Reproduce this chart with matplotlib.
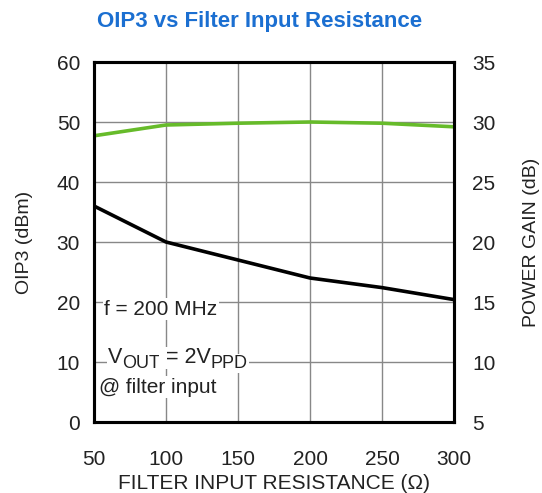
import matplotlib
matplotlib.use("Agg")
import matplotlib.pyplot as plt
from matplotlib.transforms import IdentityTransform

resistance = [50, 100, 150, 200, 250, 300]
oip3 = [47.7, 49.5, 49.8, 50.0, 49.8, 49.2]
gain = [23.0, 20.0, 18.5, 17.0, 16.2, 15.2]
x_ticks = [50, 100, 150, 200, 250, 300]
left_ticks = [0, 10, 20, 30, 40, 50, 60]
right_ticks = [5, 10, 15, 20, 25, 30, 35]

plt.rcParams['font.family'] = ['Liberation Sans', 'DejaVu Sans']
TXT = '#222222'

fig = plt.figure(figsize=(5.42, 4.93), dpi=100)
ax = fig.add_axes([94/542, 71/493, 360/542, 360/493])
ax2 = ax.twinx()

ax.set_xlim(50, 300)
ax.set_ylim(0, 60)
ax2.set_ylim(5, 35)
ax.set_xticks(x_ticks)
ax.set_yticks(left_ticks)
ax2.set_yticks(right_ticks)
ax.grid(True, color='#888888', linewidth=1.0)
ax.set_axisbelow(True)

ax.plot(resistance, oip3, color='#66bb2a', linewidth=2.6, zorder=3)
ax2.plot(resistance, gain, color='black', linewidth=2.6, zorder=3)

for a in (ax, ax2):
    for s in a.spines.values():
        s.set_linewidth(2.2)
    a.tick_params(length=0, labelsize=15, colors=TXT)

ax.tick_params(axis='x', pad=20)
ax.tick_params(axis='y', pad=10)
ax2.tick_params(axis='y', pad=13)
ax.set_xlabel('FILTER INPUT RESISTANCE (Ω)', fontsize=15, color=TXT, labelpad=4)
ax.set_ylabel('OIP3 (dBm)', fontsize=14, color=TXT, labelpad=17)
ax2.set_ylabel('POWER GAIN (dB)', fontsize=14, color=TXT, labelpad=20)

fig.text(0.479, 0.957, 'OIP3 vs Filter Input Resistance', ha='center', va='center',
         fontsize=16, fontweight='bold', color='#1b6fd1')

bbox = dict(facecolor='white', edgecolor='none', pad=1.0)
ax.text(57, 18.8, 'f = 200 MHz', fontsize=15, color=TXT, va='center', ha='left', bbox=bbox, zorder=4)
ax.text(53.5, 4.9, '@ filter input', fontsize=15, color=TXT, va='baseline', ha='left', bbox=bbox, zorder=4)

# V_OUT = 2V_PPD built from pieces
fig.canvas.draw()
renderer = fig.canvas.get_renderer()
x0, y0 = ax.transData.transform((59.5, 9.8))
pieces = [('V', 15.5, 0), ('OUT', 13, -5), (' = 2V', 15.5, 0), ('PPD', 13, -5)]
cx = x0
for s, fs, dy in pieces:
    t = fig.text(cx, y0 + dy, s, fontsize=fs, color=TXT, va='baseline', ha='left',
                 transform=IdentityTransform(), bbox=dict(facecolor='white', edgecolor='none', pad=0.5),
                 zorder=4)
    bb = t.get_window_extent(renderer)
    cx = bb.x1

fig.savefig('out.png', dpi=100)
